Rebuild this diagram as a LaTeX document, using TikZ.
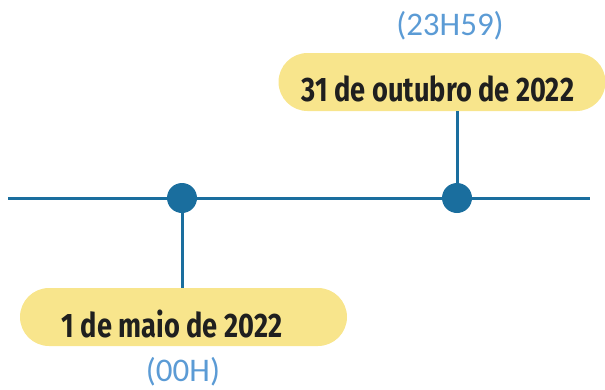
\documentclass[tikz,border=0pt]{standalone}
\usepackage{fontspec}
\setmainfont{Carlito}
\newfontfamily\handfont[FakeStretch=0.8]{Fira Sans}
\definecolor{lineblue}{HTML}{1A6E9E}
\definecolor{timeblue}{HTML}{5B9BD5}
\definecolor{boxyellow}{HTML}{F8E58C}
\begin{document}
\begin{tikzpicture}[x=1pt,y=-1pt,
  datebox/.style={fill=boxyellow,rounded corners=29pt,minimum width=327pt,minimum height=58pt,inner sep=0pt},
  datetext/.style={font=\handfont\bfseries\fontsize{34}{38}\selectfont,text=black!88},
  timetext/.style={font=\fontsize{33}{36}\selectfont,text=timeblue},
  dot/.style={circle,fill=lineblue,minimum size=30pt,inner sep=0pt},
  conn/.style={draw=lineblue,line width=3pt}]
\useasboundingbox (0,0) rectangle (605,389);
\coordinate (lstart) at (8,198);
\coordinate (lend) at (590,198);
\draw[conn] (lstart) -- (lend);
\node[datebox] (box1) at (442,82) {};
\node[datebox] (box2) at (183.5,317) {};
\node[dot] (dot1) at (182,198) {};
\node[dot] (dot2) at (457,198) {};
\draw[conn] (dot2) -- (box1.south -| dot2);
\draw[conn] (dot1) -- (box2.north -| dot1);
\node[datetext] (t1) at (438,89) {31 de outubro de 2022};
\node[datetext] (t2) at (172,324) {1 de maio de 2022};
\node[timetext] (h1) at (450,26) {(23H59)};
\node[timetext] (h2) at (183,372) {(00H)};
\end{tikzpicture}
\end{document}
